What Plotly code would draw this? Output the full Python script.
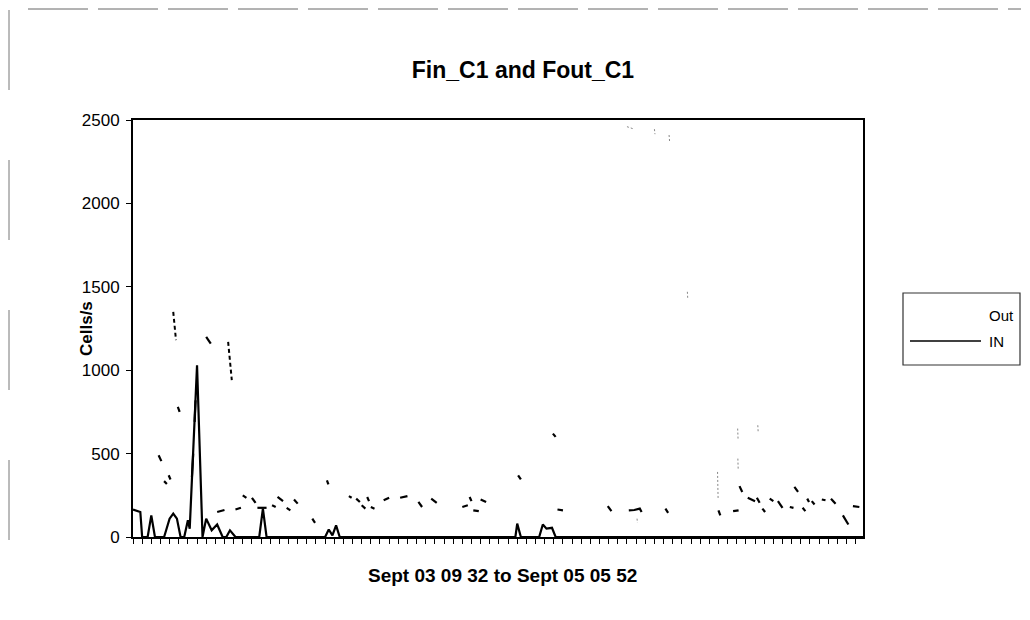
import plotly.graph_objects as go

# ---------------- data ----------------
# x = sample index along the time axis (0 .. 399), Sept 03 09:32 -> Sept 05 05:52
N_SAMPLES = 400
y_ticks = [0, 500, 1000, 1500, 2000, 2500]

# IN series (solid line) - vertices of the polyline
in_x = [0, 4, 5, 8, 10, 12, 17, 20, 22, 24, 26, 28, 30, 31, 35, 38, 40, 43, 46, 49,
        51, 53, 56, 69, 71, 73, 105, 107, 109, 111, 113, 209, 210, 212, 222, 224,
        226, 229, 231, 399]
in_y = [165, 150, 0, 0, 130, 0, 0, 110, 140, 110, 0, 0, 100, 50, 1030, 0, 110, 40, 75, 0,
        0, 40, 0, 0, 170, 0, 0, 45, 10, 70, 0, 0, 80, 0, 0, 75,
        50, 55, 0, 0]

# Out series - only fragments survive in the scan (segments)
out_segments = [
    [(14, 490), (15.5, 455)], [(17, 335), (18.5, 318)], [(19.5, 370), (20.5, 345)],
    [(24.5, 780), (25.5, 750)], [(32.2, 360), (32.9, 500)], [(33.7, 690), (34.2, 820)],
    [(40, 1200), (42.5, 1160)], [(46, 150), (50, 162)], [(56, 165), (59, 175)],
    [(60, 250), (62, 235)], [(65, 235), (67, 205)], [(68, 175), (73, 175)],
    [(76, 190), (78, 180)], [(79, 240), (82, 215)], [(84, 175), (86, 160)],
    [(88, 225), (90, 200)], [(98, 110), (99.5, 85)], [(106, 340), (106.8, 315)],
    [(118, 245), (119.5, 235)], [(122, 230), (124, 210)], [(125, 190), (127, 170)],
    [(128, 240), (129, 215)], [(130, 180), (132, 170)], [(137, 220), (140, 235)],
    [(146, 235), (150, 245)], [(156, 210), (158, 180)], [(163, 230), (166, 205)],
    [(180, 180), (183, 190)], [(184, 240), (185, 215)], [(186, 160), (189, 155)],
    [(190, 225), (193, 210)], [(210.5, 370), (212, 345)], [(229.5, 620), (231, 600)],
    [(232, 165), (235, 160)], [(259.5, 185), (261.5, 155)],
    [(271, 160), (274, 162), (277, 170), (278, 150)], [(291, 170), (292.5, 145)],
    [(320, 160), (321, 130)], [(328, 155), (331, 160)], [(331.5, 305), (333, 270)],
    [(336, 235), (340, 215)], [(341, 235), (342.5, 205)], [(344, 170), (345.5, 150)],
    [(348, 230), (350, 215)], [(352.5, 215), (355, 175)], [(359, 180), (361, 175)],
    [(361.5, 300), (363.5, 270)], [(366, 175), (367.5, 155)], [(368.5, 230), (369.5, 210)],
    [(371, 215), (372.5, 195)], [(376.5, 225), (378.5, 220)], [(381.5, 230), (384, 200)],
    [(388, 130), (391, 75)], [(393.5, 185), (397, 180)],
]
# steep parts of Out that survive as dashed columns
out_dashed_segments = [
    [(22, 1350), (23.5, 1180)], [(52, 1170), (54, 940)],
]
# very faint Out fragments
out_faint_segments = [
    [(270, 2460), (274, 2445)], [(285, 2445), (285.3, 2415)], [(293, 2410), (293.3, 2370)],
    [(303, 1470), (303.2, 1430)], [(319.5, 390), (319.8, 230)], [(330.5, 650), (330.7, 590)],
    [(330.6, 470), (330.8, 400)], [(341.5, 670), (341.7, 630)], [(275.5, 110), (275.7, 85)],
]

title_text = "Fin_C1 and Fout_C1"
x_title = "Sept 03 09 32 to Sept 05 05 52"
y_title = "Cells/s"
legend_labels = ["Out", "IN"]


def flatten(segs):
    xs, ys = [], []
    for seg in segs:
        for px, py in seg:
            xs.append(px)
            ys.append(py)
        xs.append(None)
        ys.append(None)
    return xs, ys


ox, oy = flatten(out_segments)
dx, dy = flatten(out_dashed_segments)
fx, fy = flatten(out_faint_segments)

FONT = "Liberation Sans, Arial, sans-serif"

fig = go.Figure()
fig.add_trace(go.Scatter(x=ox, y=oy, mode="lines", name="Out", showlegend=False,
                         line=dict(color="black", width=2.2), connectgaps=False))
fig.add_trace(go.Scatter(x=dx, y=dy, mode="lines", name="Out", showlegend=False,
                         line=dict(color="black", width=2, dash="4px,3px"), connectgaps=False))
fig.add_trace(go.Scatter(x=fx, y=fy, mode="lines", name="Out", showlegend=False,
                         line=dict(color="#888888", width=1, dash="2px,2px"), connectgaps=False))
fig.add_trace(go.Scatter(x=in_x, y=in_y, mode="lines", name="IN", showlegend=False,
                         line=dict(color="black", width=2.2)))

# The page body has an 8px margin, so the figure starts at (8, 8) on screen;
# keep the figure inside the window so no scrollbars appear.
OFF = 8
W, H = 1030 - 2 * OFF, 620 - 2 * OFF
# plot area in screen px: left 133, right 863, top 120, bottom 537
L, R, T, B = 133, 863, 120, 537
pw, ph = R - L, B - T


def px2paper_x(px):
    return (px - L) / pw


def px2paper_y(py):
    return (B - py) / ph


fig.update_layout(
    width=W, height=H,
    margin=dict(l=L - OFF, r=W - (R - OFF), t=T - OFF, b=H - (B - OFF)),
    paper_bgcolor="white", plot_bgcolor="white",
    font=dict(family=FONT, color="black"),
    showlegend=False,
    title=dict(text="<b>" + title_text + "</b>", x=(523 - OFF) / W, xanchor="center",
               y=1 - (70 - OFF) / H, yanchor="middle", font=dict(size=23, family=FONT)),
)
fig.update_xaxes(range=[0, N_SAMPLES - 1], showgrid=False, zeroline=False,
                 showline=True, linecolor="black", linewidth=2, mirror=True,
                 ticks="outside", ticklen=5, tickcolor="black", tickwidth=1,
                 tickvals=list(range(0, N_SAMPLES, 5)), showticklabels=False)
fig.update_yaxes(range=[0, 2500], showgrid=False, zeroline=False,
                 showline=True, linecolor="black", linewidth=2, mirror=True,
                 ticks="outside", ticklen=5, tickcolor="black", tickwidth=1,
                 tickvals=y_ticks, ticktext=[str(v) for v in y_ticks],
                 tickfont=dict(size=17, family=FONT), ticklabelstandoff=3)

# axis titles
fig.add_annotation(text="<b>" + x_title + "</b>", xref="paper", yref="paper",
                   x=px2paper_x(502), y=px2paper_y(575), xanchor="center", yanchor="middle",
                   showarrow=False, font=dict(size=19, family=FONT))
fig.add_annotation(text="<b>" + y_title + "</b>", xref="paper", yref="paper",
                   x=px2paper_x(86), y=px2paper_y(329), xanchor="center", yanchor="middle",
                   textangle=-90, showarrow=False, font=dict(size=17, family=FONT))

# legend (drawn like the original: long sample line, labels on the right)
fig.add_shape(type="rect", xref="paper", yref="paper",
              x0=px2paper_x(903), x1=px2paper_x(1020), y0=px2paper_y(365), y1=px2paper_y(293),
              line=dict(color="#333333", width=1.2), fillcolor="white")
fig.add_shape(type="line", xref="paper", yref="paper",
              x0=px2paper_x(910), x1=px2paper_x(981), y0=px2paper_y(341), y1=px2paper_y(341),
              line=dict(color="black", width=1.3))
fig.add_annotation(text=legend_labels[0], xref="paper", yref="paper",
                   x=px2paper_x(987), y=px2paper_y(315), xanchor="left", yanchor="middle",
                   showarrow=False, font=dict(size=15, family=FONT))
fig.add_annotation(text=legend_labels[1], xref="paper", yref="paper",
                   x=px2paper_x(987), y=px2paper_y(341), xanchor="left", yanchor="middle",
                   showarrow=False, font=dict(size=15, family=FONT))

# faint outer chart frame from the scan
fig.add_shape(type="line", xref="paper", yref="paper",
              x0=px2paper_x(28), x1=px2paper_x(1021), y0=px2paper_y(9), y1=px2paper_y(9),
              line=dict(color="#666666", width=1, dash="60px,10px"))
fig.add_shape(type="line", xref="paper", yref="paper",
              x0=px2paper_x(9), x1=px2paper_x(9), y0=px2paper_y(10), y1=px2paper_y(600),
              line=dict(color="#777777", width=1, dash="80px,70px"))

fig.write_html("out.html")
